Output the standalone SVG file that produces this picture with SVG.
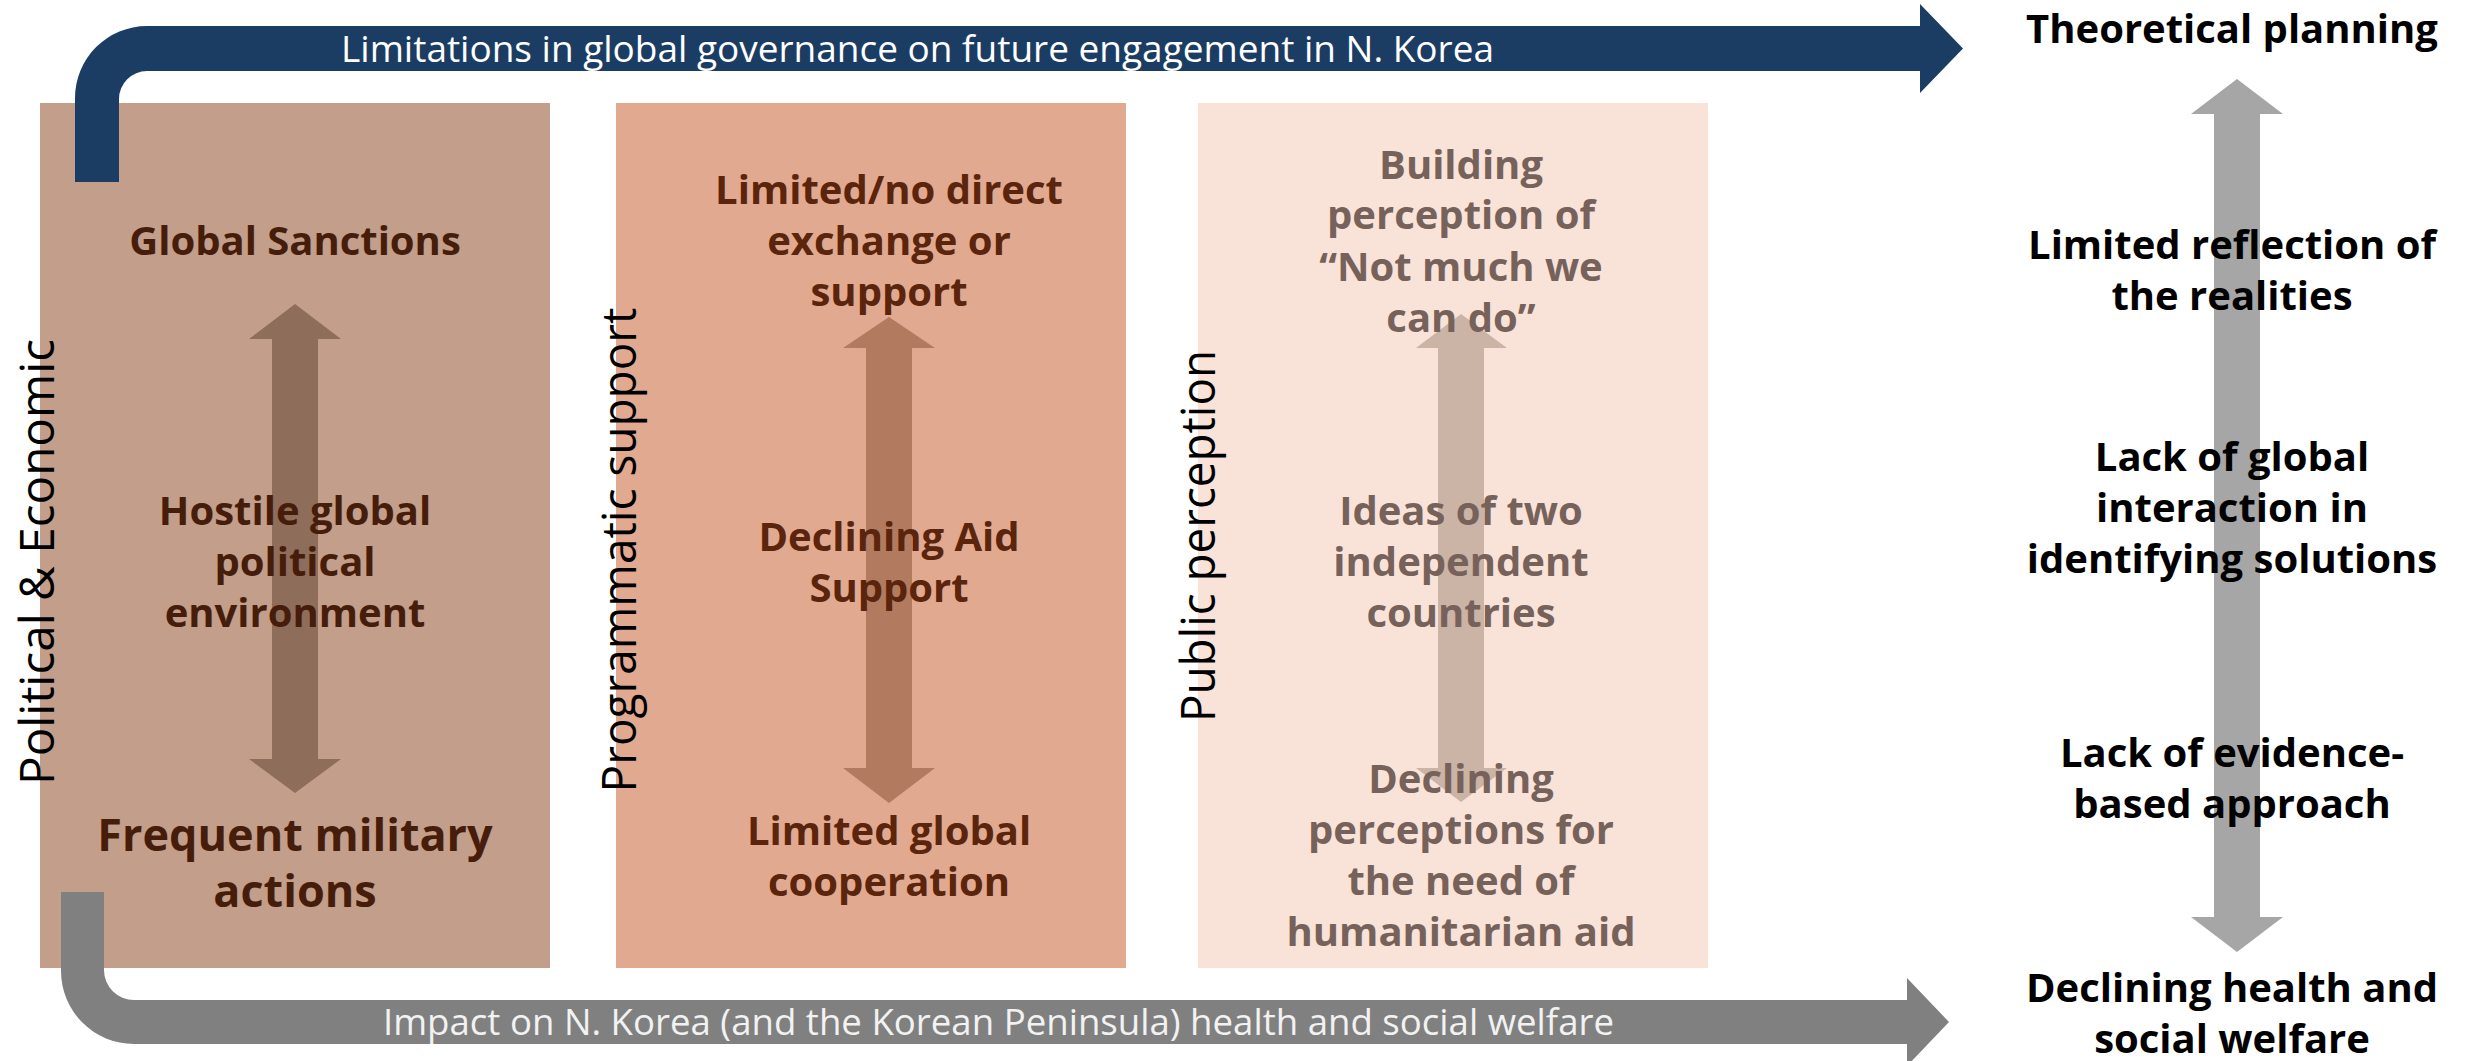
<svg xmlns="http://www.w3.org/2000/svg" width="2466" height="1061" viewBox="0 0 2466 1061">
  <style>
    text { font-family: "Open Sans", "Noto Sans", "Liberation Sans", sans-serif; text-anchor: middle; }
    .b { font-weight: 700; font-size: 40px; }
    .big { font-size: 45px; }
    .side { font-size: 48px; font-weight: 400; fill: #000; }
    .t1 { fill: #461d0b; }
    .t2 { fill: #5a240d; }
    .t3 { fill: #76625a; }
    .tr { fill: #000; }
    .band { font-size: 36px; font-weight: 400; text-anchor: start; }
  </style>

  <rect width="2466" height="1061" fill="#ffffff"/>

  <!-- Panel 1: political & economic -->
  <g id="panel-political">
    <rect x="40" y="103" width="510" height="865" fill="#c29e8b"/>
    <polygon points="295,304 341,339 318,339 318,759 341,759 295,793 249,759 272,759 272,339 249,339" fill="#8f6d5b"/>
    <text class="side" transform="translate(54,562) rotate(-90)" textLength="446" lengthAdjust="spacingAndGlyphs">Political &amp; Economic</text>
    <text class="b t1" x="295" y="255">Global Sanctions</text>
    <text class="b t1" x="295" y="525">Hostile global</text>
    <text class="b t1" x="295" y="576">political</text>
    <text class="b t1" x="295" y="627">environment</text>
    <text class="b big t1" x="295" y="851">Frequent military</text>
    <text class="b big t1" x="295" y="907">actions</text>
  </g>

  <!-- Panel 2: programmatic support -->
  <g id="panel-programmatic">
    <rect x="616" y="103" width="510" height="865" fill="#e0a990"/>
    <polygon points="889,317 935,348 912,348 912,768 935,768 889,803 843,768 866,768 866,348 843,348" fill="#b27b60"/>
    <text class="side" transform="translate(636,550) rotate(-90)" textLength="485" lengthAdjust="spacingAndGlyphs">Programmatic support</text>
    <text class="b t2" x="889" y="204">Limited/no direct</text>
    <text class="b t2" x="889" y="255">exchange or</text>
    <text class="b t2" x="889" y="306">support</text>
    <text class="b t2" x="889" y="551">Declining Aid</text>
    <text class="b t2" x="889" y="602">Support</text>
    <text class="b t2" x="889" y="845">Limited global</text>
    <text class="b t2" x="889" y="896">cooperation</text>
  </g>

  <!-- Panel 3: public perception -->
  <g id="panel-public">
    <rect x="1198" y="103" width="510" height="865" fill="#f9e3d9"/>
    <polygon points="1461,314 1507,348 1484,348 1484,768 1507,768 1461,802 1416,768 1438,768 1438,348 1416,348" fill="#cbb3a6"/>
    <text class="side" transform="translate(1215,536) rotate(-90)" textLength="372" lengthAdjust="spacingAndGlyphs">Public perception</text>
    <text class="b t3" x="1461" y="179">Building</text>
    <text class="b t3" x="1461" y="229">perception of</text>
    <text class="b t3" x="1461" y="281">“Not much we</text>
    <text class="b t3" x="1461" y="332">can do”</text>
    <text class="b t3" x="1461" y="525">Ideas of two</text>
    <text class="b t3" x="1461" y="576">independent</text>
    <text class="b t3" x="1461" y="627">countries</text>
    <text class="b t3" x="1461" y="793">Declining</text>
    <text class="b t3" x="1461" y="844">perceptions for</text>
    <text class="b t3" x="1461" y="895">the need of</text>
    <text class="b t3" x="1461" y="946">humanitarian aid</text>
  </g>

  <!-- Connectors: bent arrows and the vertical scale arrow -->
  <g id="connectors">
    <path id="governance-arrow" d="M75 182 L75 98 A72 72 0 0 1 147 26 L1920 26 L1920 4 L1963 48.5 L1920 93 L1920 71 L147 71 A28 28 0 0 0 119 99 L119 182 Z" fill="#1b3d63"/>
    <text class="band" x="341" y="62" fill="#ffffff" textLength="1153" lengthAdjust="spacingAndGlyphs">Limitations in global governance on future engagement in N. Korea</text>

    <path id="impact-arrow" d="M61 892 L104 892 L104 970 A30 30 0 0 0 134 1000 L1907 1000 L1907 978 L1949 1022 L1907 1066 L1907 1044 L134 1044 A73 73 0 0 1 61 971 Z" fill="#808080"/>
    <text class="band" x="383" y="1035" fill="#f2f2f2" textLength="1231" lengthAdjust="spacingAndGlyphs">Impact on N. Korea (and the Korean Peninsula) health and social welfare</text>

    <polygon id="scale-arrow" points="2237,79 2283,114 2260,114 2260,917 2283,917 2237,952 2191,917 2214,917 2214,114 2191,114" fill="#a6a6a6"/>
  </g>

  <!-- Right-hand scale labels -->
  <g id="label-theoretical">
    <text class="b tr" x="2232" y="43">Theoretical planning</text>
  </g>
  <g id="label-reflection">
    <text class="b tr" x="2232" y="259">Limited reflection of</text>
    <text class="b tr" x="2232" y="310">the realities</text>
  </g>
  <g id="label-interaction">
    <text class="b tr" x="2232" y="471">Lack of global</text>
    <text class="b tr" x="2232" y="522">interaction in</text>
    <text class="b tr" x="2232" y="573">identifying solutions</text>
  </g>
  <g id="label-evidence">
    <text class="b tr" x="2232" y="767">Lack of evidence-</text>
    <text class="b tr" x="2232" y="818">based approach</text>
  </g>
  <g id="label-health">
    <text class="b tr" x="2232" y="1002">Declining health and</text>
    <text class="b tr" x="2232" y="1053">social welfare</text>
  </g>
</svg>
